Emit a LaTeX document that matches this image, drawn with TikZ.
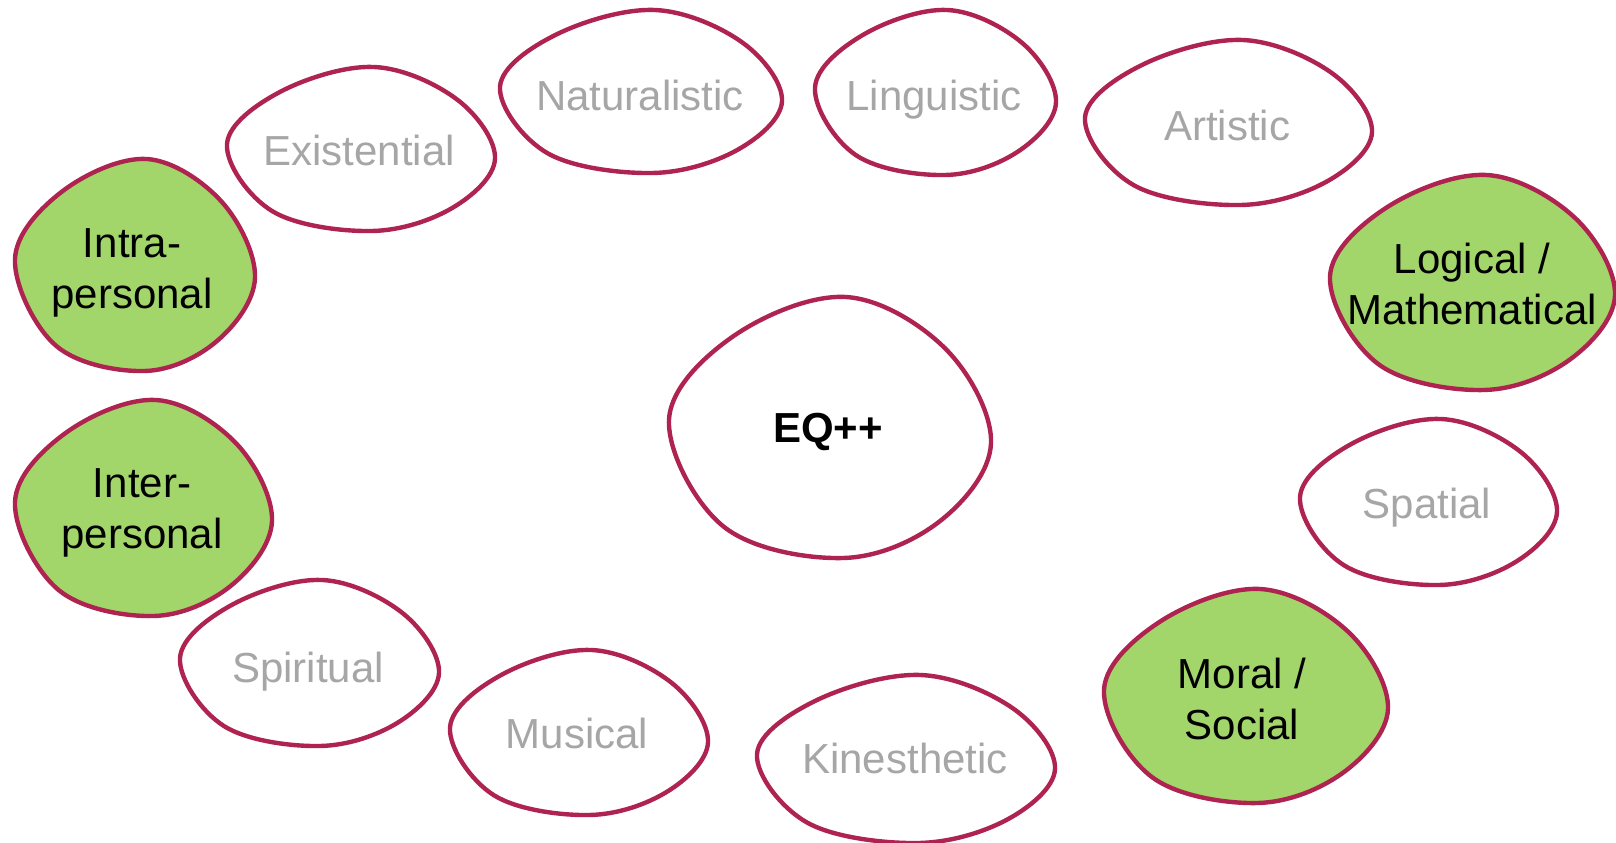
\documentclass[tikz,border=0pt]{standalone}
\usepackage{fontspec}
\setmainfont{Liberation Sans}
\definecolor{blobred}{RGB}{174,35,80}
\definecolor{blobgreen}{RGB}{162,214,106}
\definecolor{textgray}{RGB}{166,166,166}

% blob outline at (#1,#2), size #3 x #4, filled with #5
\newcommand{\blob}[5]{%
	\draw[blobline,fill=#5] plot[smooth cycle,tension=0.6] coordinates {
		({#1+0.55*#3},{#2}) ({#1+0.86*#3},{#2+0.20*#4}) ({#1+#3},{#2+0.56*#4})
		({#1+0.84*#3},{#2+0.86*#4}) ({#1+0.54*#3},{#2+#4}) ({#1+0.17*#3},{#2+0.88*#4})
		({#1},{#2+0.47*#4}) ({#1+0.20*#3},{#2+0.15*#4})
	};
}

\begin{document}
\begin{tikzpicture}[x=0.5pt,y=-0.5pt,
		blobline/.style={draw=blobred,line width=2.2pt},
		dimtext/.style={anchor=north,inner sep=0pt,text=textgray,font=\fontsize{21}{25.5}\selectfont},
		keytext/.style={anchor=north,inner sep=0pt,align=center,font=\fontsize{21}{25.5}\selectfont}]
	\useasboundingbox (0,0) rectangle (1616,842);

	% outer ring
	\blob{227}{67}{268}{164}{white}
	\blob{500}{10}{282}{163}{white}
	\blob{815}{10}{241}{165}{white}
	\blob{1085}{40}{287}{165}{white}
	\blob{1330}{175}{285}{215}{blobgreen}
	\blob{1300}{419}{257}{166}{white}
	\blob{1104}{589}{284}{214}{blobgreen}
	\blob{757}{675}{298}{168}{white}
	\blob{450}{650}{258}{165}{white}
	\blob{180}{580}{259}{166}{white}
	\blob{15}{400}{257}{216}{blobgreen}
	\blob{15}{159}{240}{212}{blobgreen}
	% centre
	\blob{669}{297}{322}{261}{white}

	\node[dimtext] (existential) at (359,135) {Existential};
	\node[dimtext] (naturalistic) at (640,80) {Naturalistic};
	\node[dimtext] (linguistic) at (934,80) {Linguistic};
	\node[dimtext] (artistic) at (1227,110) {Artistic};
	\node[keytext] (logical) at (1472,243) {Logical /\\Mathematical};
	\node[dimtext] (spatial) at (1427,488) {Spatial};
	\node[keytext] (moral) at (1242,658) {Moral /\\Social};
	\node[dimtext] (kinesthetic) at (905,743) {Kinesthetic};
	\node[dimtext] (musical) at (577,718) {Musical};
	\node[dimtext] (spiritual) at (308,652) {Spiritual};
	\node[keytext] (inter) at (142,468) {Inter-\\personal};
	\node[keytext] (intra) at (132,228) {Intra-\\personal};
	\node[keytext,font=\fontsize{21}{25.5}\selectfont\bfseries] (eq) at (828,413) {EQ++};
\end{tikzpicture}
\end{document}
